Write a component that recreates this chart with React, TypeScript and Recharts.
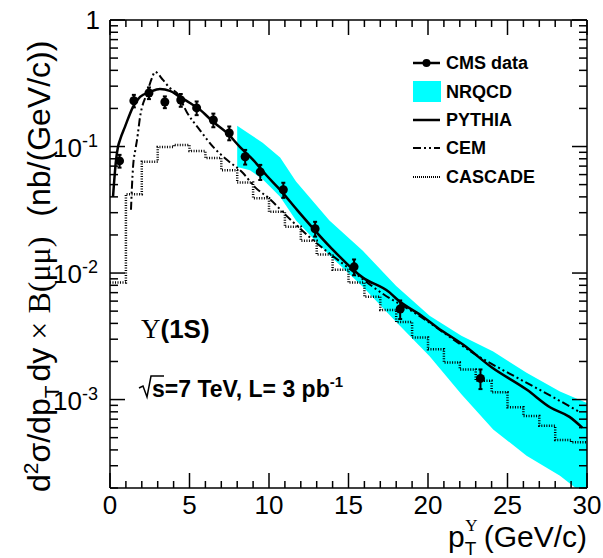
import React from 'react';
import { ComposedChart, Line, Area, Scatter, ErrorBar, XAxis, YAxis } from 'recharts';

// ---- CMS data points ----
const cmsPt = [0.6, 1.5, 2.45, 3.45, 4.45, 5.45, 6.5, 7.5, 8.5, 9.45, 10.9, 12.9, 15.35, 18.25, 23.3];
const cmsXsec = [0.077, 0.23, 0.265, 0.225, 0.233, 0.202, 0.162, 0.128, 0.083, 0.063, 0.0455, 0.0224, 0.0112, 0.0052, 0.00147];
const cmsErr = [0.0089, 0.026, 0.028, 0.024, 0.027, 0.025, 0.02, 0.016, 0.011, 0.0086, 0.0062, 0.003, 0.0016, 0.00087, 0.00026];

// ---- PYTHIA curve ----
const pythiaPt = [0.19, 0.38, 0.5, 0.63, 0.94, 1.45, 1.89, 2.52, 3.14, 3.77, 4.4, 5.03, 5.66, 6.48, 7.36, 8.18, 9.0, 9.85, 10.7, 11.76, 13.84, 15.9, 17.6, 18.05, 19.7, 20.6, 22.2, 24.0, 26.2, 27.7, 28.9, 29.7];
const pythiaXsec = [0.04, 0.078, 0.099, 0.113, 0.143, 0.206, 0.247, 0.27, 0.285, 0.275, 0.247, 0.221, 0.195, 0.157, 0.128, 0.099, 0.0785, 0.059, 0.0455, 0.0316, 0.0161, 0.0092, 0.007, 0.0062, 0.0045, 0.0037, 0.00272, 0.0018, 0.0012, 0.000865, 0.00073, 0.0006];

// ---- CEM curve ----
const cemPt = [1.32, 1.38, 1.45, 1.6, 1.7, 1.89, 2.33, 2.64, 2.83, 3.33, 3.77, 4.2, 4.85, 5.65, 6.5, 7.35, 8.35, 9.1, 10.1, 10.9, 12.75, 14.9, 17.2, 19.1, 23.3, 25.6, 27.9, 29.6];
const cemXsec = [0.0316, 0.048, 0.069, 0.095, 0.113, 0.171, 0.265, 0.348, 0.389, 0.336, 0.29, 0.265, 0.185, 0.135, 0.099, 0.0785, 0.062, 0.048, 0.038, 0.03, 0.0183, 0.0112, 0.0068, 0.0049, 0.00215, 0.00149, 0.00104, 0.00079];

// ---- CASCADE histogram (1 GeV bins, low edges) ----
const cascadeBinLow = [0, 1, 2, 3, 4, 5, 6, 7, 8, 9, 10, 11, 12, 13, 14, 15, 16, 17, 18, 19, 20, 21, 22, 23, 24, 25, 26, 27, 28, 29];
const cascadeXsec = [0.0084, 0.042, 0.0757, 0.099, 0.103, 0.092, 0.081, 0.065, 0.052, 0.039, 0.0305, 0.0232, 0.018, 0.014, 0.0106, 0.0084, 0.0065, 0.0051, 0.0041, 0.0031, 0.0025, 0.00196, 0.00173, 0.00141, 0.00114, 0.00087, 0.00074, 0.00062, 0.00048, 0.00046];

// ---- NRQCD band ----
const nrqcdPt = [8, 8.8, 9.6, 10.7, 11.7, 13.8, 15.9, 18.0, 20.1, 22.1, 24.1, 26.2, 28.3, 30];
const nrqcdLow = [0.069, 0.065, 0.055, 0.04, 0.026, 0.0138, 0.0078, 0.0041, 0.0022, 0.0011, 0.00058, 0.00036, 0.00025, 0.00017];
const nrqcdHigh = [0.146, 0.125, 0.107, 0.082, 0.053, 0.026, 0.015, 0.0079, 0.0046, 0.0032, 0.0024, 0.00163, 0.00116, 0.00094];

// ---- axes ----
const xTicks = [0, 1, 2, 3, 4, 5, 6, 7, 8, 9, 10, 11, 12, 13, 14, 15, 16, 17, 18, 19, 20, 21, 22, 23, 24, 25, 26, 27, 28, 29, 30];
const yDecades = [0.0001, 0.001, 0.01, 0.1];
const yMultipliers = [1, 2, 3, 4, 5, 6, 7, 8, 9];
const yMin = 0.0002;
const yMax = 1;

const legendLabels = ['CMS data', 'NRQCD', 'PYTHIA', 'CEM', 'CASCADE'];

const FONT = "'Liberation Sans', Arial, Helvetica, sans-serif";
const SERIF = "'Liberation Serif', 'Times New Roman', serif";

const yTicks: number[] = [];
yDecades.forEach((d) => yMultipliers.forEach((m) => { const v = m * d; if (v >= yMin * 0.999) yTicks.push(v); }));
yTicks.push(1);

const cmsData = cmsPt.map((x, i) => ({ x, y: cmsXsec[i], err: cmsErr[i] }));
const pythiaData = pythiaPt.map((x, i) => ({ x, y: pythiaXsec[i] }));
const cemData = cemPt.map((x, i) => ({ x, y: cemXsec[i] }));
const cascadeData = [
  ...cascadeBinLow.map((x, i) => ({ x, y: cascadeXsec[i] })),
  { x: 30, y: cascadeXsec[cascadeXsec.length - 1] },
];
const nrqcdData = nrqcdPt.map((x, i) => ({ x, band: [nrqcdLow[i], nrqcdHigh[i]] }));

const isDecade = (v: number) => Math.abs(Math.log10(v) - Math.round(Math.log10(v))) < 1e-6;

function LeftTick(props: any) {
  const { x, y, payload } = props;
  const v = payload.value;
  const major = isDecade(v);
  const e = Math.round(Math.log10(v));
  return (
    <g>
      <line x1={x} y1={y} x2={x + (major ? 15 : 8)} y2={y} stroke="#000" strokeWidth={1.5} />
      {major && e === 0 && (
        <text x={x - 10} y={y + 9} textAnchor="end" fontSize={26} fontFamily={FONT} fill="#000">1</text>
      )}
      {major && e !== 0 && (
        <text x={x - 12} y={y + 10} textAnchor="end" fontSize={26} fontFamily={FONT} fill="#000">
          10<tspan dy={-10} fontSize={18}>{`${e}`}</tspan>
        </text>
      )}
    </g>
  );
}

function RightTick(props: any) {
  const { x, y, payload } = props;
  const major = isDecade(payload.value);
  return <line x1={x} y1={y} x2={x - (major ? 15 : 8)} y2={y} stroke="#000" strokeWidth={1.5} />;
}

function BottomTick(props: any) {
  const { x, y, payload } = props;
  const v = payload.value;
  const major = v % 5 === 0;
  return (
    <g>
      <line x1={x} y1={y} x2={x} y2={y - (major ? 15 : 7)} stroke="#000" strokeWidth={1.5} />
      {major && (
        <text x={x} y={y + 26} textAnchor="middle" fontSize={26} fontFamily={FONT} fill="#000">{v}</text>
      )}
    </g>
  );
}

function TopTick(props: any) {
  const { x, y, payload } = props;
  const major = payload.value % 5 === 0;
  return <line x1={x} y1={y} x2={x} y2={y + (major ? 15 : 7)} stroke="#000" strokeWidth={1.5} />;
}

const Dot = (p: any) => <circle cx={p.cx} cy={p.cy} r={4.5} fill="#000" />;

function Overlay() {
  const lx1 = 413;
  const lx2 = 440;
  const rows = [63, 92, 120, 148, 177];
  return (
    <svg width={603} height={558} style={{ position: 'absolute', left: 0, top: 0, pointerEvents: 'none' }}>
      {/* Y axis title */}
      <text transform="translate(50,492) rotate(-90)" fontFamily={FONT} fontSize={32} fill="#000">
        d<tspan dy={-12} fontSize={21}>2</tspan>
        <tspan dy={12}>σ/dp</tspan>
        <tspan dy={9} fontSize={21}>T</tspan>
        <tspan dy={-9} dx={4}>dy</tspan>
        <tspan dx={8} fontFamily={SERIF}>× B(μμ)</tspan>
        <tspan dx={20}>(nb/(GeV/c))</tspan>
      </text>
      {/* X axis title */}
      <text x={587} y={547} textAnchor="end" fontFamily={FONT} fontSize={30} fill="#000">
        p<tspan dy={8} fontSize={19}>T</tspan>
        <tspan dx={-11} dy={-24} fontSize={17} fontFamily={SERIF}>Υ</tspan>
        <tspan dy={16} dx={6}>(GeV/c)</tspan>
      </text>
      {/* Annotations */}
      <text x={141} y={338} fill="#000">
        <tspan fontFamily={SERIF} fontSize={27}>Υ</tspan>
        <tspan fontFamily={FONT} fontWeight="bold" fontSize={26}>(1S)</tspan>
      </text>
      <path d="M139 388 L143 386 L147 397 L151 376 L164 376" stroke="#000" strokeWidth={1.5} fill="none" />
      <text x={152} y={397} fontFamily={FONT} fontWeight="bold" fontSize={23} fill="#000">
        s=7 TeV, L= 3 pb<tspan dy={-10} fontSize={15}>-1</tspan>
      </text>
      {/* Legend */}
      <line x1={lx1} y1={rows[0]} x2={lx2} y2={rows[0]} stroke="#000" strokeWidth={2.5} />
      <circle cx={(lx1 + lx2) / 2} cy={rows[0]} r={4} fill="#000" />
      <rect x={lx1} y={rows[1] - 11} width={28} height={21} fill="#00FFFF" />
      <line x1={lx1} y1={rows[2]} x2={lx2} y2={rows[2]} stroke="#000" strokeWidth={2.5} />
      <line x1={lx1} y1={rows[3]} x2={lx2} y2={rows[3]} stroke="#000" strokeWidth={2} strokeDasharray="8 3 2 3 2 3" />
      <line x1={lx1} y1={rows[4]} x2={lx2} y2={rows[4]} stroke="#000" strokeWidth={2} strokeDasharray="1 1" />
      {legendLabels.map((t, i) => (
        <text key={t} x={446} y={rows[i] + 6} fontFamily={FONT} fontWeight="bold" fontSize={18} fill="#000">{t}</text>
      ))}
    </svg>
  );
}

export default function App() {
  return (
    <div style={{ position: 'absolute', left: 0, top: 0, width: 603, height: 558, background: '#fff' }}>
      <ComposedChart width={603} height={558} margin={{ top: 19, right: 15, bottom: 10, left: 50 }}>
        <XAxis
          dataKey="x" type="number" domain={[0, 30]} ticks={xTicks} interval={0} allowDataOverflow
          height={60} tickSize={0} tickMargin={0} tick={<BottomTick />} tickLine={false}
          axisLine={{ stroke: '#000', strokeWidth: 1.5 }}
        />
        <XAxis
          xAxisId="top" orientation="top" dataKey="x" type="number" domain={[0, 30]} ticks={xTicks} interval={0}
          allowDataOverflow height={1} tickSize={0} tickMargin={0} tick={<TopTick />} tickLine={false}
          axisLine={{ stroke: '#000', strokeWidth: 1.5 }}
        />
        <YAxis
          dataKey="y" type="number" scale="log" domain={[yMin, yMax]} ticks={yTicks} interval={0} allowDataOverflow
          width={60} tickSize={0} tickMargin={0} tick={<LeftTick />} tickLine={false}
          axisLine={{ stroke: '#000', strokeWidth: 1.5 }}
        />
        <YAxis
          yAxisId="right" orientation="right" dataKey="y" type="number" scale="log" domain={[yMin, yMax]} ticks={yTicks}
          interval={0} allowDataOverflow width={1} tickSize={0} tickMargin={0} tick={<RightTick />} tickLine={false}
          axisLine={{ stroke: '#000', strokeWidth: 1.5 }}
        />
        <Area
          data={nrqcdData} dataKey="band" type="linear" fill="#00FFFF" fillOpacity={1} stroke="none"
          isAnimationActive={false}
        />
        <Line
          data={cascadeData} dataKey="y" type="stepAfter" stroke="#000" strokeWidth={2.5} strokeDasharray="1 1.5"
          dot={false} isAnimationActive={false}
        />
        <Line
          data={cemData} dataKey="y" type="monotone" stroke="#000" strokeWidth={2} strokeDasharray="8 3 2 3 2 3"
          dot={false} isAnimationActive={false}
        />
        <Line
          data={pythiaData} dataKey="y" type="monotone" stroke="#000" strokeWidth={2.5}
          dot={false} isAnimationActive={false}
        />
        <Scatter data={cmsData} dataKey="y" shape={<Dot />} isAnimationActive={false}>
          <ErrorBar dataKey="err" direction="y" width={2} stroke="#000" strokeWidth={2} isAnimationActive={false} />
        </Scatter>
      </ComposedChart>
      <Overlay />
    </div>
  );
}
